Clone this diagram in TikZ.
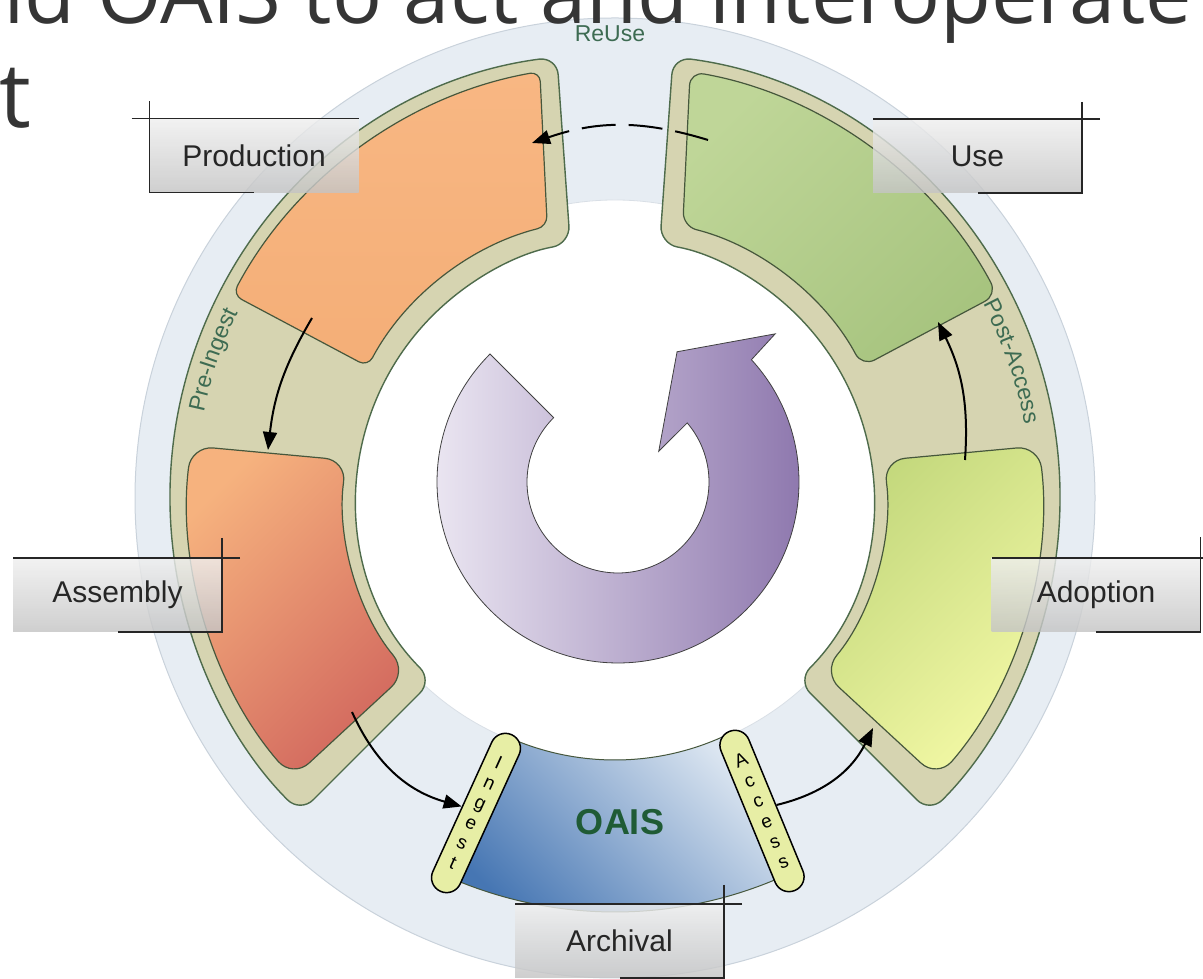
\documentclass[tikz,border=0pt]{standalone}
\usepackage{fontspec}
\setmainfont{Liberation Sans}
\newfontfamily\titlefont{Open Sans}
\usetikzlibrary{arrows.meta,decorations.text}
\definecolor{ringfill}{HTML}{E7EDF3}
\definecolor{ringedge}{HTML}{C9D2DB}
\definecolor{bandfill}{HTML}{D6D4B1}
\definecolor{bandedge}{HTML}{4E6B4B}
\definecolor{segedge}{HTML}{46573C}
\definecolor{prod1}{HTML}{F8B783}
\definecolor{prod2}{HTML}{F4AE77}
\definecolor{asm1}{HTML}{F6B27E}
\definecolor{asm2}{HTML}{D2685E}
\definecolor{use1}{HTML}{BFD698}
\definecolor{use2}{HTML}{A7C47F}
\definecolor{adp1}{HTML}{C3D87C}
\definecolor{adp2}{HTML}{F4F9A6}
\definecolor{oais1}{HTML}{DCE6F1}
\definecolor{oais2}{HTML}{4676B3}
\definecolor{pill}{HTML}{E7EEA5}
\definecolor{purp1}{HTML}{EEEAF4}
\definecolor{purp2}{HTML}{8A73AB}
\definecolor{lbl}{HTML}{3D6B52}
\definecolor{oaistext}{HTML}{1F5B35}
\definecolor{titlegray}{HTML}{353535}
\definecolor{box1}{HTML}{EFEFEF}
\definecolor{box2}{HTML}{C4C4C4}
\begin{document}
\begin{tikzpicture}[x=1pt,y=1pt,
 seg/.style={draw=segedge,line width=1.2pt},
 band/.style={draw=bandedge,fill=bandfill,line width=1.4pt,rounded corners=18pt},
 conn/.style={line width=2pt,black,-{Triangle[length=18pt,width=14pt]}},
 lblbox/.style={minimum width=209pt,minimum height=74pt,inner sep=0pt,outer sep=0pt,top color=box1,bottom color=box2,fill opacity=0.82,text opacity=1,font=\fontsize{30}{30}\selectfont,text=black!85},
 cross/.style={line width=1.8pt,black!85},
 pillbox/.style={draw=black,line width=1.5pt,fill=pill,rounded corners=14.9pt,minimum width=30pt,minimum height=172pt,inner sep=0pt,align=center,font=\fontsize{19}{22}\selectfont}
]
\useasboundingbox (0,0) rectangle (1203,979);
\clip (0,0) rectangle (1203,979);
% background ring
\fill[ringfill] (615,481) circle (480);
\draw[ringedge,line width=1pt] (615,481) circle (480);
\fill[white] (615,499) circle (280);
\draw[ringedge!70,line width=0.8pt] (615,499) circle (280);
% title (cut-off slide title)
\node[anchor=base east,inner sep=0pt,font=\titlefont\fontsize{83}{83}\selectfont,text=titlegray] (title1) at (1192,955) {and OAIS to act and interoperate};
\node[anchor=base east,inner sep=0pt,font=\titlefont\fontsize{90}{90}\selectfont,text=titlegray] (title2) at (31,851) {t};
\node[font=\fontsize{23}{23}\selectfont,text=lbl] (reuse) at (610,945) {ReUse};
\begin{scope}[shift={(615,481)}]
 % bands
 \path[band] (97.5:445) arc[start angle=97.5,end angle=225,radius=445] -- (225:258) arc[start angle=225,end angle=100,radius=258] -- cycle;
 \path[band] (82.5:445) arc[start angle=82.5,end angle=-45,radius=445] -- (-45:258) arc[start angle=-45,end angle=80,radius=258] -- cycle;
 % segments
 \path[seg,top color=prod1,bottom color=prod2,rounded corners=10pt] (152:433) arc[start angle=152,end angle=100,radius=433] -- (104:280) arc[start angle=104,end angle=152,radius=280] -- cycle;
 \path[seg,top color=use1,bottom color=use2,shading angle=45,rounded corners=14pt] (28:433) arc[start angle=28,end angle=80,radius=433] -- (76:280) arc[start angle=76,end angle=28,radius=280] -- cycle;
 \path[seg,top color=asm1,bottom color=asm2,shading angle=45,rounded corners=22pt] (173:427) arc[start angle=173,end angle=221,radius=427] -- (220:271) arc[start angle=220,end angle=172,radius=271] -- cycle;
 \path[seg,top color=adp1,bottom color=adp2,shading angle=45,rounded corners=22pt] (7:427) arc[start angle=7,end angle=-41,radius=427] -- (-40:271) arc[start angle=-40,end angle=8,radius=271] -- cycle;
 \path[seg,line width=1pt,top color=oais1,bottom color=oais2,shading angle=-45] (246:262) arc[start angle=246,end angle=294,radius=262] -- (294:414) arc[start angle=294,end angle=246,radius=414] -- cycle;
 % curved band labels
 \path[decorate,decoration={text along path,text align=center,text={|\fontsize{23}{23}\selectfont\color{lbl}|Pre-Ingest}}] (181:420) arc[start angle=181,end angle=141,radius=420];
 \path[decorate,decoration={text along path,text align=center,text={|\fontsize{23}{23}\selectfont\color{lbl}|Post-Access}}] (39:416) arc[start angle=39,end angle=-1,radius=416];
\end{scope}
% OAIS label and pills
\node[font=\bfseries\fontsize{36}{36}\selectfont,text=oaistext] (oaislbl) at (620,157) {OAIS};
\node[pillbox,rotate=-24.5] (ingest) at (476,166) {I\\n\\g\\e\\s\\t};
\node[pillbox,rotate=22.4] (access) at (762,168) {A\\c\\c\\e\\s\\s};
% central purple cycle arrow
\begin{scope}[shift={(618,497)}]
 \path[draw=black!75,line width=0.8pt,left color=purp1,right color=purp2] (135:181) -- (135:91) arc[start angle=135,end angle=400.5,radius=91] -- (37:51) -- (65.6:143) -- (43.3:216) -- (42.5:181) arc[start angle=42.5,end angle=-225,radius=181] -- cycle;
\end{scope}
% connector end points
\coordinate (useL) at (708,839);
\coordinate (prodR) at (532,836);
\coordinate (prodA) at (312,661);
\coordinate (asmT) at (268,529);
\coordinate (asmB) at (352,267);
\coordinate (adpA) at (965,519);
\coordinate (useB) at (938,657);
\coordinate (adpB) at (873,251);
% connectors
\draw[conn,dash pattern=on 34pt off 13pt] (useL) to[bend right=18] (prodR);
\draw[conn] (prodA) to[bend right=12] (asmT);
\draw[conn] (asmB) to[bend right=25] (ingest.west);
\draw[conn] (access.east) to[bend right=25] (adpB);
\draw[conn] (adpA) to[bend right=15] (useB);
% label boxes
\node[lblbox] (production) at (254,823.5) {Production};
\draw[cross] ([xshift=-18pt]production.north west) -- (production.north east);
\draw[cross] ([yshift=17pt]production.north west) -- (production.south west) -- (production.south);
\node[lblbox] (use) at (977.5,823) {Use};
\draw[cross] ([xshift=18pt]use.north east) -- (use.north west);
\draw[cross] ([yshift=17pt]use.north east) -- (use.south east) -- (use.south);
\node[lblbox] (assembly) at (117.5,384) {Assembly};
\draw[cross] ([xshift=18pt]assembly.north east) -- (assembly.north west);
\draw[cross] ([yshift=20pt]assembly.north east) -- (assembly.south east) -- (assembly.south);
\node[lblbox] (adoption) at (1096,384) {Adoption};
\draw[cross] ([xshift=11pt]adoption.north east) -- (adoption.north west);
\draw[cross] ([yshift=21pt]adoption.north east) -- (adoption.south east) -- (adoption.south);
\node[lblbox] (archival) at (619.5,38) {Archival};
\draw[cross] ([xshift=18pt]archival.north east) -- (archival.north west);
\draw[cross] ([yshift=19pt]archival.north east) -- (archival.south east) -- (archival.south);
\end{tikzpicture}
\end{document}
